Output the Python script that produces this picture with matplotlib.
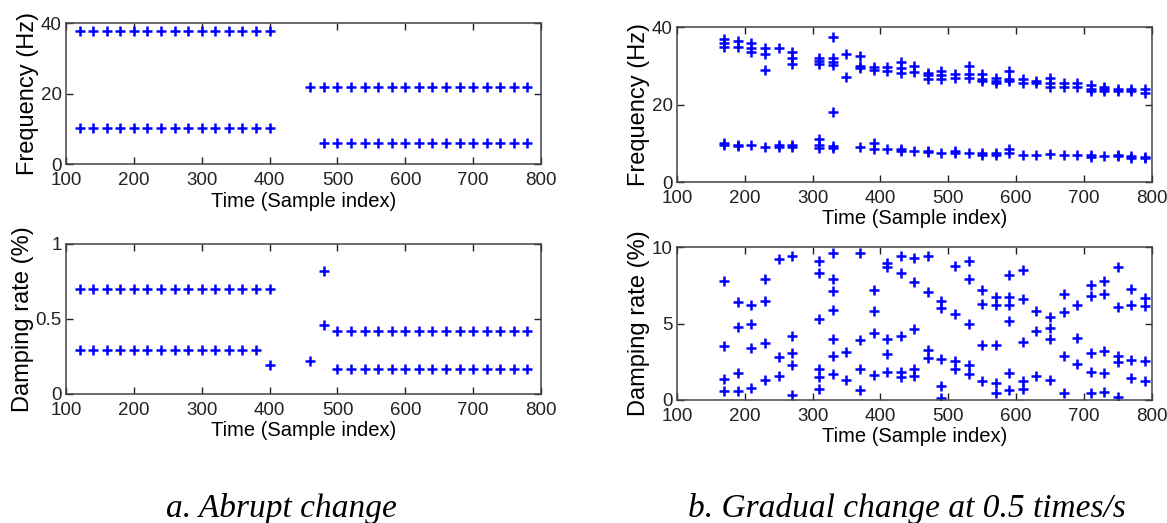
import numpy as np
import matplotlib
matplotlib.use("Agg")
import matplotlib.pyplot as plt

plt.rcParams['font.family'] = ['Liberation Sans', 'DejaVu Sans']

# ---- (a) abrupt change ----
ab_t_before = np.arange(120, 401, 20)
ab_f_hi_before = np.full(len(ab_t_before), 37.6)
ab_f_lo_before = np.full(len(ab_t_before), 10.4)
ab_t_hi_after = np.arange(460, 781, 20)
ab_f_hi_after = np.full(len(ab_t_hi_after), 21.8)
ab_t_lo_after = np.arange(480, 781, 20)
ab_f_lo_after = np.full(len(ab_t_lo_after), 6.0)

ab_d_hi_before = np.full(len(ab_t_before), 0.70)
ab_t_lo_d_before = np.arange(120, 381, 20)
ab_d_lo_before = np.full(len(ab_t_lo_d_before), 0.29)
ab_t_trans = [400, 460, 480, 480]
ab_d_trans = [0.195, 0.222, 0.82, 0.462]
ab_t_after = np.arange(500, 781, 20)
ab_d_hi_after = np.full(len(ab_t_after), 0.42)
ab_d_lo_after = np.full(len(ab_t_after), 0.165)

# ---- (b) gradual change ----
gr_time = [170, 190, 210, 230, 250, 270, 310, 330, 350, 370, 390, 410, 430, 450,
           470, 490, 510, 530, 550, 570, 590, 610, 630, 650, 670, 690, 710, 730,
           750, 770, 790]
gr_freq = [
    [37.0, 36.0, 34.8, 10.0, 9.5],
    [36.5, 35.0, 9.6, 9.3],
    [36.0, 34.6, 33.6, 9.5],
    [34.5, 33.0, 29.0, 9.1],
    [34.5, 9.6, 9.0],
    [33.5, 32.0, 30.5, 9.5, 9.0],
    [32.0, 31.2, 30.5, 11.0, 9.5, 8.9],
    [37.5, 32.0, 31.0, 30.3, 18.0, 9.4, 8.8],
    [33.0, 27.2],
    [32.5, 30.0, 29.4, 9.0],
    [29.6, 28.9, 10.0, 8.6],
    [29.6, 28.6, 8.5],
    [31.0, 29.5, 28.2, 8.5, 8.0],
    [30.0, 28.5, 8.1],
    [28.2, 27.6, 26.6, 8.0, 7.8],
    [28.6, 27.6, 26.6, 7.6],
    [28.0, 27.0, 8.0, 7.6],
    [30.0, 28.0, 27.0, 7.6],
    [28.0, 26.6, 26.0, 7.6, 7.1],
    [27.0, 26.1, 25.5, 7.6, 7.0],
    [28.6, 26.6, 26.0, 8.5, 7.5],
    [26.6, 25.6, 7.1],
    [26.0, 25.5, 7.0],
    [27.0, 25.6, 24.6, 7.2],
    [25.6, 24.6, 7.0],
    [25.6, 24.6, 7.0],
    [25.0, 24.1, 23.5, 7.0, 6.5],
    [24.6, 24.0, 23.5, 6.8],
    [24.1, 23.5, 7.0, 6.7],
    [24.0, 23.5, 6.8, 6.2],
    [24.0, 23.1, 6.5, 6.2],
]
gr_damp = [
    [7.8, 3.5, 1.4, 0.6],
    [6.4, 4.8, 1.75, 0.6],
    [6.2, 5.0, 3.4, 0.8],
    [7.9, 6.5, 3.7, 1.3],
    [9.2, 2.8, 1.6],
    [9.4, 4.2, 3.1, 2.3, 0.3],
    [9.1, 8.3, 5.3, 2.0, 1.5, 0.7],
    [9.6, 7.9, 7.1, 5.9, 4.0, 2.9, 1.7],
    [3.15, 1.3],
    [9.6, 3.9, 2.0, 0.65],
    [7.2, 5.8, 4.35, 1.65],
    [8.95, 8.7, 4.0, 3.0, 1.8],
    [9.4, 8.3, 4.2, 1.83, 1.5],
    [9.3, 7.7, 4.65, 2.0, 1.6],
    [9.4, 7.05, 3.26, 2.76],
    [6.5, 6.0, 2.65, 0.9, 0.15],
    [8.74, 5.6, 2.54, 2.04],
    [9.1, 7.9, 5.0, 2.26, 1.67],
    [7.2, 6.3, 3.6, 1.24],
    [6.7, 6.2, 3.57, 1.1, 0.43],
    [8.2, 6.7, 6.24, 5.15, 1.74, 0.65],
    [8.5, 6.6, 3.8, 1.24, 0.74],
    [5.8, 4.5, 1.6],
    [5.43, 4.7, 3.96, 1.3],
    [6.9, 5.74, 2.9, 0.43],
    [6.24, 4.07, 2.33],
    [7.54, 6.8, 3.04, 1.83, 0.48],
    [7.76, 6.96, 3.2, 1.78, 0.54],
    [8.7, 6.1, 2.9, 2.48, 0.2],
    [7.26, 6.24, 2.59, 1.46],
    [6.67, 6.17, 2.54, 1.24],
]

x_ticks = np.arange(100, 801, 100)
captions = ["a. Abrupt change", "b. Gradual change at 0.5 times/s"]


def flatten(times, groups):
    xs = np.concatenate([np.full(len(g), t) for t, g in zip(times, groups)])
    ys = np.concatenate([np.array(g, dtype=float) for g in groups])
    return xs, ys


def style_axes(ax, ylim, yticks, ylabel):
    ax.set_xlim(100, 800)
    ax.set_ylim(*ylim)
    ax.set_xticks(x_ticks)
    ax.set_yticks(yticks)
    ax.tick_params(direction='in', top=True, right=True, length=5, width=1,
                   labelsize=13.5, colors='#222222')
    ax.tick_params(axis='x', pad=5.5)
    ax.tick_params(axis='y', pad=3)
    for sp in ax.spines.values():
        sp.set_color('#444444')
        sp.set_linewidth(1.1)
    ax.set_xlabel("Time (Sample index)", fontsize=14.5, labelpad=2)
    ax.set_ylabel(ylabel, fontsize=17, labelpad=1)


def plus(ax, x, y):
    ax.plot(x, y, '+', color='#0000ff', markersize=7.5, markeredgewidth=1.8,
            linestyle='none')


fig = plt.figure(figsize=(11.67, 5.23), dpi=100)

ax1 = fig.add_axes([0.0566, 0.686, 0.407, 0.270])
plus(ax1, ab_t_before, ab_f_hi_before)
plus(ax1, ab_t_before, ab_f_lo_before)
plus(ax1, ab_t_hi_after, ab_f_hi_after)
plus(ax1, ab_t_lo_after, ab_f_lo_after)
style_axes(ax1, (0, 40), [0, 20, 40], "Frequency (Hz)")

ax2 = fig.add_axes([0.0566, 0.2467, 0.407, 0.2868])
plus(ax2, ab_t_before, ab_d_hi_before)
plus(ax2, ab_t_lo_d_before, ab_d_lo_before)
plus(ax2, ab_t_trans, ab_d_trans)
plus(ax2, ab_t_after, ab_d_hi_after)
plus(ax2, ab_t_after, ab_d_lo_after)
style_axes(ax2, (0, 1), [0, 0.5, 1], "Damping rate (%)")
ax2.set_yticklabels(["0", "0.5", "1"])

ax3 = fig.add_axes([0.580, 0.652, 0.407, 0.296])
fx, fy = flatten(gr_time, gr_freq)
plus(ax3, fx, fy)
style_axes(ax3, (0, 40), [0, 20, 40], "Frequency (Hz)")

ax4 = fig.add_axes([0.580, 0.2352, 0.407, 0.2925])
dx, dy = flatten(gr_time, gr_damp)
plus(ax4, dx, dy)
style_axes(ax4, (0, 10), [0, 5, 10], "Damping rate (%)")

fig.text(281 / 1167, 1 - 508 / 523, captions[0], ha='center', va='center',
         family='Liberation Serif', style='italic', fontsize=24)
fig.text(907 / 1167, 1 - 508 / 523, captions[1], ha='center', va='center',
         family='Liberation Serif', style='italic', fontsize=24)

fig.savefig("out.png", dpi=100)
